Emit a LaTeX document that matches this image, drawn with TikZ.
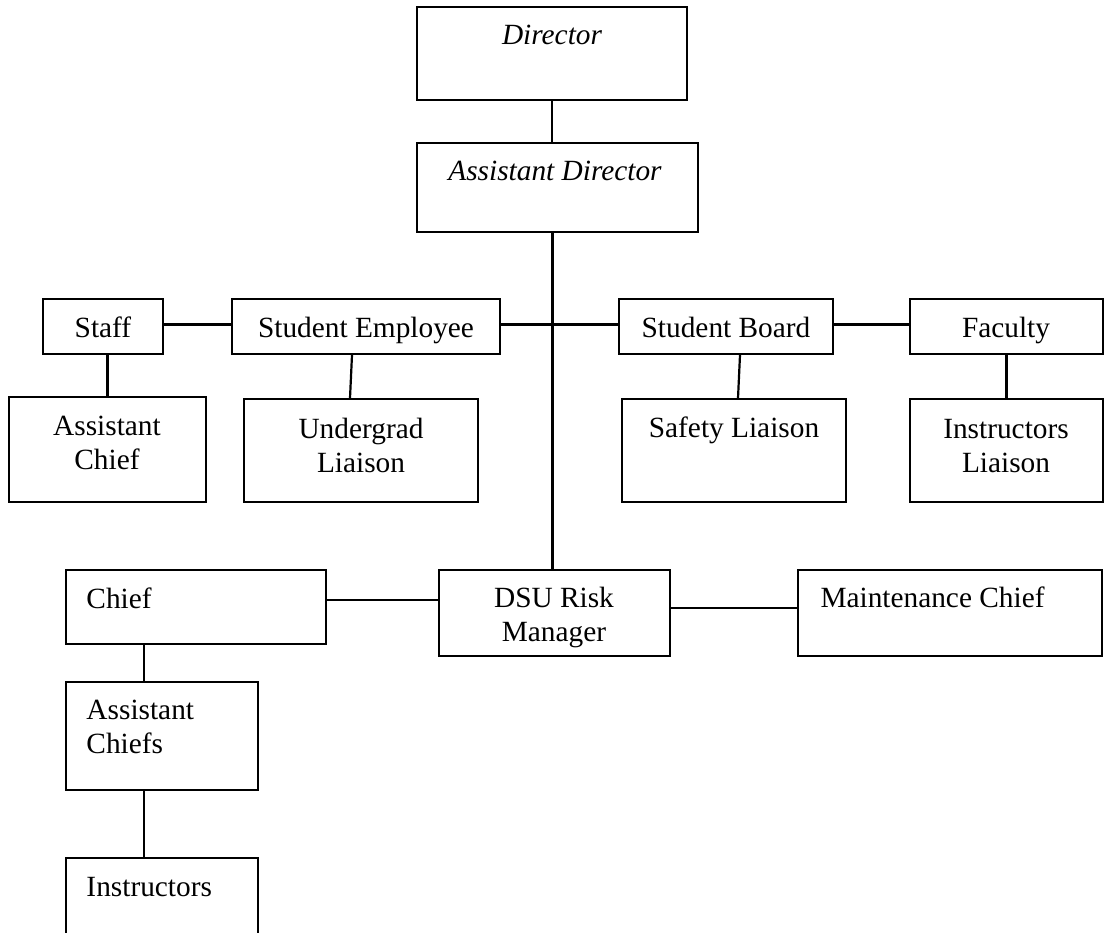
\documentclass[tikz,border=0pt]{standalone}
\usepackage{fontspec}
\setmainfont{Liberation Serif}
\usetikzlibrary{fit,calc}

\begin{document}
\begin{tikzpicture}[x=0.409pt, y=-0.409pt,
  font=\fontsize{12pt}{13.8pt}\selectfont,
  box/.style={draw, line width=0.8pt, inner sep=0pt},
  link/.style={line width=0.9pt},
  lbl/.style={inner sep=0pt, anchor=base, align=center},
  lbll/.style={inner sep=0pt, anchor=base west, align=left}]

 % page
 \clip (0,0) rectangle (1105,932);

 % director and assistant
 \node[box, fit={(417,7) (687,100)}] (dir) {};
 \node[box, fit={(417,143) (698,232)}] (ad) {};
 \node[lbl] (dirtxt) at (552,45) {\itshape Director};
 \node[lbl] (adtxt) at (555,180) {\itshape Assistant Director};

 % middle row
 \node[box, fit={(43,299) (163,354)}] (staff) {};
 \node[box, fit={(232,299) (500,354)}] (se) {};
 \node[box, fit={(619,299) (833,354)}] (sb) {};
 \node[box, fit={(910,299) (1103,354)}] (fac) {};
 \node[lbl] (stafftxt) at (103,337) {Staff};
 \node[lbl] (setxt) at (366,337) {Student Employee};
 \node[lbl] (sbtxt) at (726,337) {Student Board};
 \node[lbl] (factxt) at (1006,337) {Faculty};

 % liaisons (base = last line)
 \node[box, fit={(9,397) (206,502)}] (achief) {};
 \node[box, fit={(244,399) (478,502)}] (ugl) {};
 \node[box, fit={(622,399) (846,502)}] (sl) {};
 \node[box, fit={(910,399) (1103,502)}] (il) {};
 \node[lbl] (achieftxt) at (107,469) {Assistant\\Chief};
 \node[lbl] (ugltxt) at (361,472) {Undergrad\\Liaison};
 \node[lbl] (sltxt) at (734,437) {Safety Liaison};
 \node[lbl] (iltxt) at (1006,472) {Instructors\\Liaison};

 % risk manager row
 \node[box, fit={(66,570) (326,644)}] (chief) {};
 \node[box, fit={(439,570) (670,656)}] (dsu) {};
 \node[box, fit={(798,570) (1102,656)}] (mc) {};
 \node[lbll] (chieftxt) at (86,608) {Chief};
 \node[lbl] (dsutxt) at (554,641) {DSU Risk\\Manager};
 \node[lbll] (mctxt) at (820,607) {Maintenance Chief};

 % chiefs column
 \node[box, fit={(66,682) (258,790)}] (achiefs) {};
 \node[box, fit={(66,858) (258,960)}] (inst) {};
 \node[lbll] (achiefstxt) at (86,753) {Assistant\\Chiefs};
 \node[lbll] (insttxt) at (86,896) {Instructors};

 % links
 \draw[link] (dir.south) -- (dir.south |- ad.north);
 \draw[link] ($(dsu.north)+(-2,0)$) -- ($(dsu.north |- ad.south)+(-2,0)$);
 \draw[link] ($(staff.east)+(0,-2)$) -- ($(se.west)+(0,-2)$);
 \draw[link] ($(se.east)+(0,-2)$) -- ($(sb.west)+(0,-2)$);
 \draw[link] ($(sb.east)+(0,-2)$) -- ($(fac.west)+(0,-2)$);
 \draw[link] (achief.north) -- (achief.north |- staff.south);
 \draw[link] ($(se.south)+(-14,0)$) -- ($(ugl.north)+(-11,0)$);
 \draw[link] ($(sb.south)+(14,0)$) -- ($(sl.north)+(4,0)$);
 \draw[link] (fac.south) -- (il.north);
 \draw[link] ($(chief.east)+(0,-7)$) -- ($(dsu.west)+(0,-13)$);
 \draw[link] ($(dsu.east)+(0,-5)$) -- ($(mc.west)+(0,-5)$);
 \coordinate (acx) at ($(achiefs.north)+(-18,0)$);
 \draw[link] (acx) -- (acx |- chief.south);
 \draw[link] ($(achiefs.south)+(-18,0)$) -- ($(inst.north)+(-18,0)$);
\end{tikzpicture}
\end{document}
